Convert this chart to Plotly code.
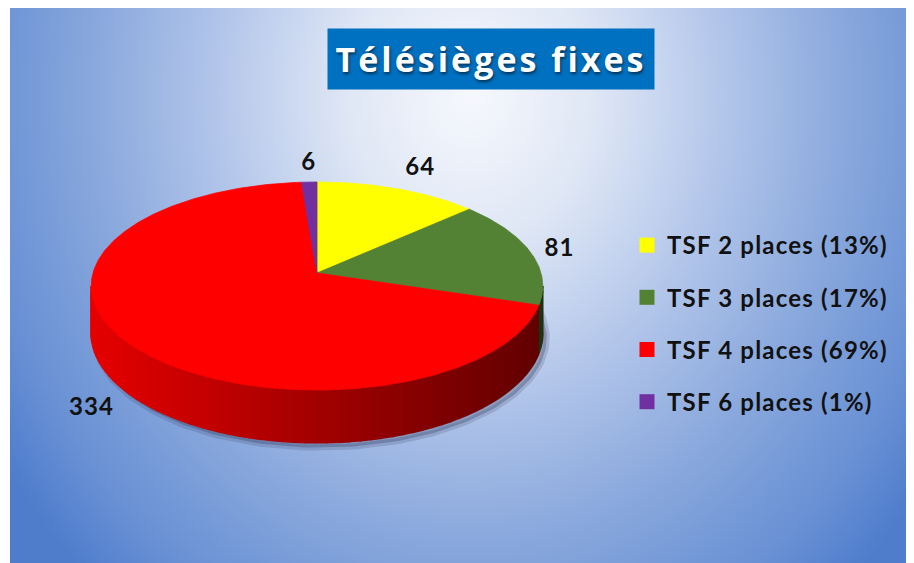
import math, base64
import numpy as np
import plotly.graph_objects as go

# ---------------- data ----------------
categories = ["TSF 2 places", "TSF 3 places", "TSF 4 places", "TSF 6 places"]
values = [64, 81, 334, 6]
colors = ["#FFFF00", "#548235", "#FF0000", "#7030A0"]
title_text = "Télésièges fixes"

# ---------------- geometry (style) ----------------
W, H = 914, 563
OFF = 8                    # page body margin compensation
CX, CY = 317.0, 273.0      # apex of the pie on screen
RX, AY = 224.0, 102.4      # horizontal / vertical radius
K = 0.125                  # perspective factor
DEPTH = 46.0               # thickness of pie


def proj(theta_deg, r=1.0, h=0.0):
    th = np.radians(theta_deg)
    u = r * np.sin(th)
    v = -r * np.cos(th)
    den = 1 - K * v
    return CX + RX * u / den, CY + (AY * v + h) / den


total = sum(values)
fracs = [v / total for v in values]
starts, ends = [], []
acc = 0.0
for f in fracs:
    starts.append(acc * 360)
    acc += f
    ends.append(acc * 360)

fig = go.Figure()

# ---- background gradient (svg image) ----
svg = f'''<svg xmlns="http://www.w3.org/2000/svg" width="904" height="557">
<defs><radialGradient id="g" gradientUnits="userSpaceOnUse" cx="0" cy="0" r="1"
 gradientTransform="translate(460,90) scale(560,660)">
<stop offset="0" stop-color="#f6f8fd"/>
<stop offset="0.22" stop-color="#dfe7f5"/>
<stop offset="0.45" stop-color="#b3c6ea"/>
<stop offset="0.68" stop-color="#88a7dc"/>
<stop offset="0.88" stop-color="#6890d4"/>
<stop offset="1" stop-color="#4f7dcc"/>
</radialGradient></defs>
<rect width="904" height="557" fill="url(#g)"/></svg>'''
src = "data:image/svg+xml;base64," + base64.b64encode(svg.encode()).decode()
fig.add_layout_image(dict(source=src, xref="x", yref="y", x=10, y=6, sizex=904, sizey=557,
                          sizing="stretch", layer="below", xanchor="left", yanchor="top"))

# ---- shadow under the pie ----
th_all = np.linspace(0, 360, 241)
sx, sy = proj(th_all, 1.0, DEPTH)
fig.add_trace(go.Scatter(x=sx + 4, y=sy + 5, fill="toself", mode="lines",
                         line=dict(width=6, color="rgba(30,40,70,0.16)"),
                         fillcolor="rgba(30,40,70,0.26)", hoverinfo="skip", showlegend=False))

# ---- side (front half) ----
fine = np.linspace(0, 360, 3601)
xs_rim, _ = proj(fine)
th_r = fine[np.argmax(xs_rim)]
th_l = fine[np.argmin(xs_rim)]
xmin, xmax = xs_rim.min(), xs_rim.max()


def shade(hexcol, t):
    r = int(hexcol[1:3], 16); g = int(hexcol[3:5], 16); b = int(hexcol[5:7], 16)
    f = 0.9 - 0.52 * t
    return f"rgb({int(r*f)},{int(g*f)},{int(b*f)})"


for i, (a0, a1) in enumerate(zip(starts, ends)):
    lo, hi = max(a0, th_r), min(a1, th_l)
    if hi <= lo:
        continue
    n = max(2, int((hi - lo) / 2.5))
    edges = np.linspace(lo, hi, n + 1)
    for e0, e1 in zip(edges[:-1], edges[1:]):
        tt = np.linspace(e0, e1, 4)
        xt, yt = proj(tt, 1.0, 0.0)
        xb, yb = proj(tt[::-1], 1.0, DEPTH)
        xm = (xt.mean() - xmin) / (xmax - xmin)
        c = shade(colors[i], xm)
        fig.add_trace(go.Scatter(x=np.r_[xt, xb], y=np.r_[yt, yb], fill="toself", mode="lines",
                                 line=dict(width=2, color=c), fillcolor=c,
                                 hoverinfo="skip", showlegend=False))

# ---- top face ----
for i, (a0, a1) in enumerate(zip(starts, ends)):
    tt = np.linspace(a0, a1, max(3, int((a1 - a0) * 2)))
    x, y = proj(tt)
    fig.add_trace(go.Scatter(x=np.r_[CX, x, CX], y=np.r_[CY, y, CY], fill="toself", mode="lines",
                             line=dict(width=0.8, color=colors[i]), fillcolor=colors[i],
                             name=categories[i], hoverinfo="skip", showlegend=False))

# ---- data labels ----
lx, ly, lpos = [], [], []
for a0, a1 in zip(starts, ends):
    mid = (a0 + a1) / 2
    sector = int(((mid + 22.5) % 360) // 45)
    pos = ["top center", "top right", "middle right", "bottom right",
           "bottom center", "bottom left", "middle left", "top left"][sector]
    h = DEPTH if sector in (3, 4, 5) else 0.0
    r = {0: 1.07, 1: 1.1, 2: 1.07}.get(sector, 1.06)
    x, y = proj(mid, r, h)
    lx.append(float(x)); ly.append(float(y)); lpos.append(pos)
fig.add_trace(go.Scatter(x=lx, y=ly, mode="text",
                         text=[f'<span style="letter-spacing:1.2px">{v}</span>' for v in values],
                         textposition=lpos, hoverinfo="skip", showlegend=False,
                         textfont=dict(family="Lato", size=24, color="#111111", weight="bold")))

# ---- legend entries ----
for i, cat in enumerate(categories):
    pct = round(values[i] / total * 100)
    fig.add_trace(go.Scatter(x=[None], y=[None], mode="markers",
                             name=f'<span style="letter-spacing:1.2px">{cat} ({pct}%)</span>',
                             legendgroup=f"g{i}",
                             marker=dict(symbol="square", size=15, color=colors[i])))

# ---- title ----
fig.add_annotation(x=491, y=59, xref="x", yref="y",
                   text=f'<span style="letter-spacing:3px">{title_text}</span>', showarrow=False,
                   font=dict(family="Open Sans", size=34, color="white", weight="bold",
                             shadow="1px 2px 3px rgba(0,0,0,0.55)"),
                   bgcolor="#0070C0", width=326, height=60, borderpad=0,
                   xanchor="center", yanchor="middle")

fig.update_layout(
    width=W, height=H, margin=dict(l=0, r=0, t=0, b=0),
    paper_bgcolor="white", plot_bgcolor="rgba(0,0,0,0)",
    xaxis=dict(range=[OFF, W + OFF], visible=False, fixedrange=True),
    yaxis=dict(range=[H + OFF, OFF], visible=False, fixedrange=True),
    legend=dict(x=(627 - OFF) / W, y=1 - (223 - OFF) / H, xanchor="left", yanchor="top",
                bgcolor="rgba(0,0,0,0)", tracegroupgap=18, itemwidth=30,
                font=dict(family="Lato", size=24, color="#111111", weight="bold")),
    showlegend=True,
)

fig.write_html("out.html")
